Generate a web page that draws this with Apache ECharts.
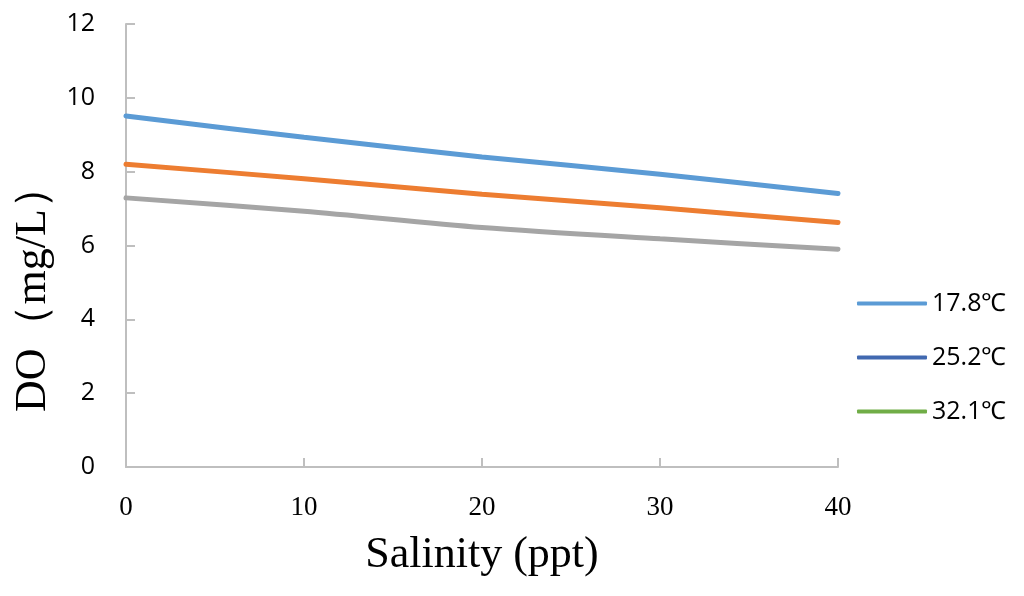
<!DOCTYPE html>
<html>
<head>
<meta charset="utf-8">
<script src="https://cdn.jsdelivr.net/npm/echarts@6/dist/echarts.min.js"></script>
<style>
    html, body { margin: 0; padding: 0; background: #fff; }
    #main { width: 1024px; height: 596px; }
</style>
</head>
<body>
<div id="main"></div>
<script>
// 盐度 (ppt)
var salinity = [0, 10, 20, 30, 40];
// 各温度下的溶解氧 (mg/L)
var do178 = [9.51, 8.93, 8.40, 7.93, 7.41];
var do252 = [8.20, 7.81, 7.39, 7.02, 6.62];
var do321 = [7.29, 6.93, 6.49, 6.18, 5.90];
var seriesNames = ['17.8℃', '25.2℃', '32.1℃'];
var lineColors = ['#5B9BD5', '#ED7D31', '#A5A5A5'];
var legendColors = ['#5B9BD5', '#4169B0', '#70AD47'];

function pairs(ys) {
    return salinity.map(function (x, i) { return [x, ys[i]]; });
}

var myChart = echarts.init(document.getElementById('main'));

var option = {
    backgroundColor: '#fff',
    animation: false,
    grid: {
        left: 126,
        right: 186,
        top: 24,
        bottom: 129
    },
    legend: {
        orient: 'vertical',
        left: 852,
        top: 286,
        itemWidth: 70,
        itemHeight: 4,
        itemGap: 29,
        icon: 'roundRect',
        textStyle: {
            color: '#000',
            fontSize: 25,
            fontFamily: 'Open Sans'
        },
        data: seriesNames.map(function (n, i) {
            return { name: n, itemStyle: { color: legendColors[i] } };
        })
    },
    xAxis: {
        type: 'value',
        min: 0,
        max: 40,
        interval: 10,
        name: 'Salinity (ppt)',
        nameLocation: 'middle',
        nameGap: 66,
        nameTextStyle: {
            color: '#000',
            fontSize: 44,
            fontFamily: 'Liberation Serif'
        },
        axisLine: { lineStyle: { color: '#BFBFBF', width: 2 } },
        axisTick: { show: true, inside: true, length: 9, lineStyle: { color: '#BFBFBF', width: 2 } },
        axisLabel: {
            color: '#000',
            fontSize: 27,
            fontFamily: 'Liberation Serif',
            margin: 27
        },
        splitLine: { show: false }
    },
    yAxis: {
        type: 'value',
        min: 0,
        max: 12,
        interval: 2,
        name: 'DO（mg/L）',
        nameLocation: 'middle',
        nameGap: 70,
        nameRotate: 90,
        nameTextStyle: {
            color: '#000',
            fontSize: 44,
            fontFamily: 'Liberation Serif',
            padding: [0, 86, 0, 0]
        },
        axisLine: { show: true, lineStyle: { color: '#BFBFBF', width: 2 } },
        axisTick: { show: true, inside: true, length: 9, lineStyle: { color: '#BFBFBF', width: 2 } },
        axisLabel: {
            color: '#000',
            fontSize: 25,
            fontFamily: 'Open Sans',
            margin: 31
        },
        splitLine: { show: false }
    },
    series: [do178, do252, do321].map(function (ys, i) {
        return {
            name: seriesNames[i],
            type: 'line',
            data: pairs(ys),
            smooth: 0.3,
            showSymbol: false,
            symbol: 'none',
            itemStyle: { color: legendColors[i] },
            lineStyle: { color: lineColors[i], width: 5, cap: 'round' }
        };
    })
};

myChart.setOption(option);
window.addEventListener('resize', function () {
    myChart.resize();
});
</script>
</body>
</html>
